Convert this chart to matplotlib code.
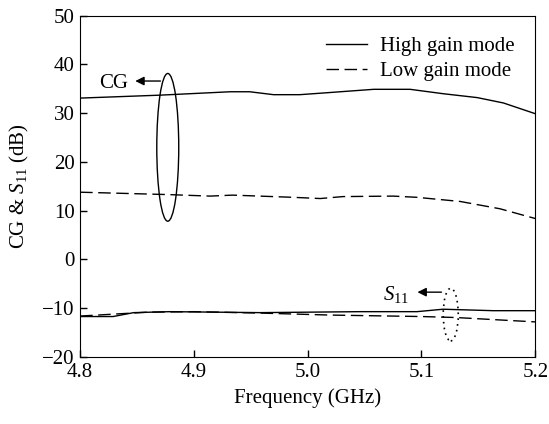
import matplotlib.pyplot as plt
from matplotlib.patches import Ellipse

plt.rcParams['font.family'] = ['Liberation Serif', 'DejaVu Serif']
plt.rcParams['mathtext.fontset'] = 'custom'
plt.rcParams['mathtext.it'] = 'Liberation Serif:italic'
plt.rcParams['mathtext.rm'] = 'Liberation Serif'

# conversion gain, high gain mode
cg_high_f = [4.800, 4.870, 4.932, 4.949, 4.970, 4.993, 5.017, 5.058, 5.090, 5.119, 5.149, 5.172, 5.200]
cg_high = [33.1, 33.7, 34.4, 34.4, 33.8, 33.8, 34.2, 34.9, 34.9, 34.0, 33.2, 32.1, 29.9]

# conversion gain, low gain mode
cg_low_f = [4.800, 4.879, 4.914, 4.934, 4.987, 5.011, 5.031, 5.075, 5.096, 5.134, 5.169, 5.200]
cg_low = [13.8, 13.3, 13.0, 13.2, 12.75, 12.5, 12.9, 13.0, 12.75, 11.9, 10.4, 8.4]

# S11, high gain mode
s11_high_f = [4.800, 4.829, 4.847, 4.879, 4.958, 5.046, 5.096, 5.119, 5.163, 5.200]
s11_high = [-11.7, -11.7, -10.9, -10.7, -10.9, -10.7, -10.7, -10.2, -10.5, -10.5]

# S11, low gain mode
s11_low_f = [4.800, 4.830, 4.860, 4.900, 4.960, 5.020, 5.100, 5.130, 5.200]
s11_low = [-11.6, -11.2, -10.8, -10.7, -11.0, -11.4, -11.7, -11.9, -12.8]

x_ticks = [4.8, 4.9, 5.0, 5.1, 5.2]
x_labels = ['4.8', '4.9', '5.0', '5.1', '5.2']
y_ticks = [-20, -10, 0, 10, 20, 30, 40, 50]
y_labels = ['\u221220', '\u221210', '0', '10', '20', '30', '40', '50']

fig, ax = plt.subplots(figsize=(5.49, 4.24), dpi=100)
fig.subplots_adjust(left=0.146, right=0.975, top=0.963, bottom=0.158)

dash = (0, (9, 4))
ax.plot(cg_high_f, cg_high, color='black', lw=1.0, label='High gain mode')
ax.plot(cg_low_f, cg_low, color='black', lw=1.0, linestyle=dash, label='Low gain mode')
ax.plot(s11_high_f, s11_high, color='black', lw=1.0)
ax.plot(s11_low_f, s11_low, color='black', lw=1.0, linestyle=dash)

# annotation ellipses
ax.add_patch(Ellipse((4.877, 23.0), 0.0193, 30.3, fill=False, color='black', lw=1.0))
ax.add_patch(Ellipse((5.1257, -11.3), 0.0132, 10.8, fill=False, color='black', lw=1.2,
                     linestyle=(0, (1, 2.5))))

ax.annotate('', xy=(4.846, 36.6), xytext=(4.873, 36.6),
            arrowprops=dict(arrowstyle='-|>', color='black', lw=1.0, mutation_scale=13))
ax.text(4.8295, 36.1, 'CG', fontsize=15, ha='center', va='center')

ax.annotate('', xy=(5.094, -6.7), xytext=(5.120, -6.7),
            arrowprops=dict(arrowstyle='-|>', color='black', lw=1.0, mutation_scale=13))
ax.text(5.0775, -7.2, '$S_{11}$', fontsize=15, ha='center', va='center')

ax.set_xlim(4.8, 5.2)
ax.set_ylim(-20, 50)
ax.set_xticks(x_ticks)
ax.set_xticklabels(x_labels)
ax.set_yticks(y_ticks)
ax.set_yticklabels(y_labels)
ax.tick_params(direction='in', length=5, width=1, labelsize=15, pad=4)
ax.set_xlabel('Frequency (GHz)', fontsize=15, labelpad=5)
ax.set_ylabel('CG & $S_{11}$ (dB)', fontsize=15, labelpad=8)

leg = ax.legend(loc='upper right', frameon=False, fontsize=15, handlelength=2.0,
                handletextpad=0.6, labelspacing=0.25, borderaxespad=0.6)

fig.savefig('out.png', dpi=100)
